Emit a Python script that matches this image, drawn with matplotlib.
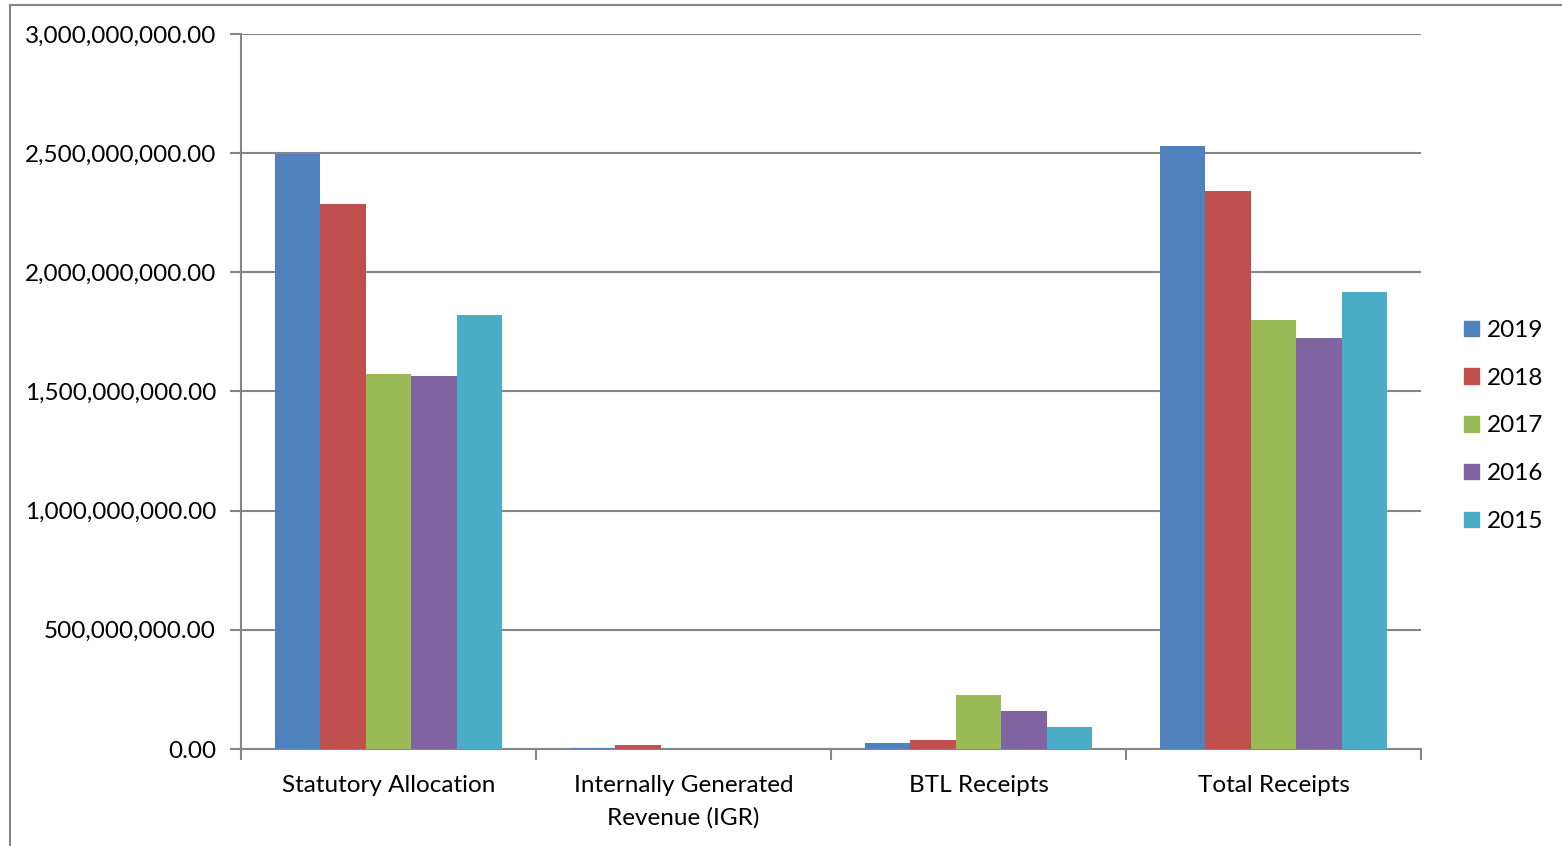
import matplotlib.pyplot as plt
import numpy as np
from matplotlib.lines import Line2D
from matplotlib.patches import Patch

plt.rcParams['font.family'] = ['Lato', 'DejaVu Sans']

categories = ['Statutory Allocation', 'Internally Generated\nRevenue (IGR)', 'BTL Receipts', 'Total Receipts']
years = ['2019', '2018', '2017', '2016', '2015']
colors = ['#4F81BD', '#C0504D', '#9BBB59', '#8064A2', '#4BACC6']

values = {
    '2019': [2495000000, 6000000, 25000000, 2530000000],
    '2018': [2287000000, 15000000, 38000000, 2341000000],
    '2017': [1573000000, 0, 227000000, 1800000000],
    '2016': [1565000000, 0, 159000000, 1724000000],
    '2015': [1821000000, 0, 92000000, 1917000000],
}

fig = plt.figure(figsize=(15.62, 8.46), dpi=100)
ax = fig.add_axes([241/1562, 1 - 749/846, (1421 - 241)/1562, (749 - 34)/846])

x = np.arange(len(categories)) + 0.5
w = 1 / 6.5
for i, yr in enumerate(years):
    ax.bar(x + (i - 2) * w, values[yr], width=w, color=colors[i], label=yr, zorder=3)

ax.set_xlim(0, 4)
ax.set_ylim(0, 3e9)
ax.set_yticks(np.arange(0, 3.01e9, 5e8))
ax.yaxis.set_major_formatter(plt.FuncFormatter(lambda v, p: f'{v:,.2f}'))
ax.grid(axis='y', color='#868686', linewidth=1.5, zorder=0)

ax.set_xticks(np.arange(0, 5))
ax.set_xticklabels([])
ax.set_xticks(x, minor=True)
ax.set_xticklabels(categories, minor=True, fontsize=17.5, linespacing=1.6)
ax.tick_params(axis='x', which='minor', length=0, pad=19)
ax.tick_params(axis='x', which='major', length=8, width=1.5, color='#868686', direction='out')
ax.tick_params(axis='y', length=8, width=1.5, color='#868686', labelsize=17.5, pad=10)

for s in ['top', 'right']:
    ax.spines[s].set_visible(False)
for s in ['left', 'bottom']:
    ax.spines[s].set_color('#868686')
    ax.spines[s].set_linewidth(1.5)

handles = [Patch(color=c, label=y) for c, y in zip(colors, years)]
fig.legend(handles=handles, loc='center left', bbox_to_anchor=(1464/1562, 1 - 426/846),
           frameon=False, fontsize=17.5, handlelength=0.6, handleheight=0.6,
           handletextpad=0.35, labelspacing=1.1, borderpad=0, borderaxespad=0)

fig.add_artist(Line2D([10/1562, 10/1562], [0, 1 - 5/846], color='#868686', linewidth=1.5))
fig.add_artist(Line2D([10/1562, 1], [1 - 5/846, 1 - 5/846], color='#868686', linewidth=1.5))

fig.savefig('out.png', dpi=100)
